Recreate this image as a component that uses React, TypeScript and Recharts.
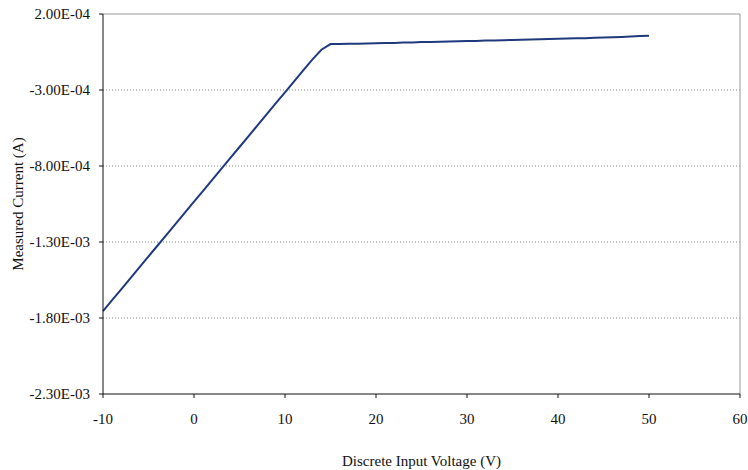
import {
  LineChart,
  Line,
  XAxis,
  YAxis,
  CartesianGrid,
  ReferenceLine,
} from 'recharts';

const voltages = [
  -10, -9, -8, -7, -6, -5, -4, -3, -2, -1, 0, 1, 2, 3, 4, 5, 6, 7, 8, 9, 10,
  11, 12, 13, 14, 15, 16, 17, 18, 19, 20, 21, 22, 23, 24, 25, 26, 27, 28, 29,
  30, 31, 32, 33, 34, 35, 36, 37, 38, 39, 40, 41, 42, 43, 44, 45, 46, 47, 48,
  49, 50,
];

const currents = [
  -1.755e-3, -1.683e-3, -1.611e-3, -1.539e-3, -1.467e-3, -1.395e-3, -1.323e-3,
  -1.251e-3, -1.179e-3, -1.107e-3, -1.035e-3, -0.963e-3, -0.891e-3, -0.819e-3,
  -0.747e-3, -0.675e-3, -0.603e-3, -0.531e-3, -0.459e-3, -0.387e-3, -0.315e-3,
  -0.243e-3, -0.171e-3, -0.1e-3, -0.035e-3, 0.002e-3, 0.003e-3, 0.004e-3,
  0.005e-3, 0.006e-3, 0.007e-3, 0.009e-3, 0.01e-3, 0.012e-3, 0.013e-3,
  0.015e-3, 0.016e-3, 0.017e-3, 0.019e-3, 0.02e-3, 0.022e-3, 0.023e-3,
  0.025e-3, 0.026e-3, 0.028e-3, 0.029e-3, 0.031e-3, 0.032e-3, 0.034e-3,
  0.035e-3, 0.037e-3, 0.038e-3, 0.04e-3, 0.041e-3, 0.043e-3, 0.045e-3,
  0.047e-3, 0.049e-3, 0.052e-3, 0.055e-3, 0.057e-3,
];

const xTicks = [-10, 0, 10, 20, 30, 40, 50, 60];
const yTicks = [-2.3e-3, -1.8e-3, -1.3e-3, -8e-4, -3e-4, 2e-4];

const data = voltages.map((v, i) => ({ v, i: currents[i] }));

// Excel-style scientific label, e.g. -3.00E-04
const fmtY = (value: number) => {
  const [m, e] = value.toExponential(2).toUpperCase().split('E');
  const n = Number(e);
  return `${m}E${n < 0 ? '-' : '+'}${String(Math.abs(n)).padStart(2, '0')}`;
};

const font = '"Liberation Serif", "DejaVu Serif", serif';
const tickStyle = { fontSize: 15, fill: '#111', fontFamily: font };

export default function App() {
  return (
    <div style={{ position: 'absolute', left: 0, top: 0, background: '#fff' }}>
      <LineChart
        width={748}
        height={470}
        data={data}
        margin={{ top: 14, right: 8, left: 0, bottom: 0 }}
      >
        <CartesianGrid
          vertical={false}
          stroke="#888"
          strokeDasharray="1 2"
          horizontalValues={yTicks.slice(1, -1)}
        />
        <ReferenceLine y={2e-4} stroke="#999" />
        <ReferenceLine x={60} stroke="#999" />
        <XAxis
          type="number"
          dataKey="v"
          domain={[-10, 60]}
          ticks={xTicks}
          height={76}
          tick={tickStyle}
          tickSize={4}
          tickMargin={15}
          axisLine={{ stroke: '#111' }}
          tickLine={{ stroke: '#111' }}
          label={{
            value: 'Discrete Input Voltage (V)',
            position: 'insideBottom',
            offset: 4,
            style: { fontSize: 15, fill: '#111', fontFamily: font },
          }}
        />
        <YAxis
          type="number"
          domain={[-2.3e-3, 2e-4]}
          ticks={yTicks}
          tickFormatter={fmtY}
          width={103}
          tick={tickStyle}
          tickSize={4}
          tickMargin={9}
          axisLine={{ stroke: '#111' }}
          tickLine={{ stroke: '#111' }}
          label={{
            value: 'Measured Current (A)',
            angle: -90,
            position: 'insideLeft',
            offset: 18,
            style: { fontSize: 15, fill: '#111', fontFamily: font, textAnchor: 'middle' },
          }}
        />
        <Line
          type="linear"
          dataKey="i"
          stroke="#1f3a7c"
          strokeWidth={2}
          dot={false}
          isAnimationActive={false}
        />
      </LineChart>
    </div>
  );
}
